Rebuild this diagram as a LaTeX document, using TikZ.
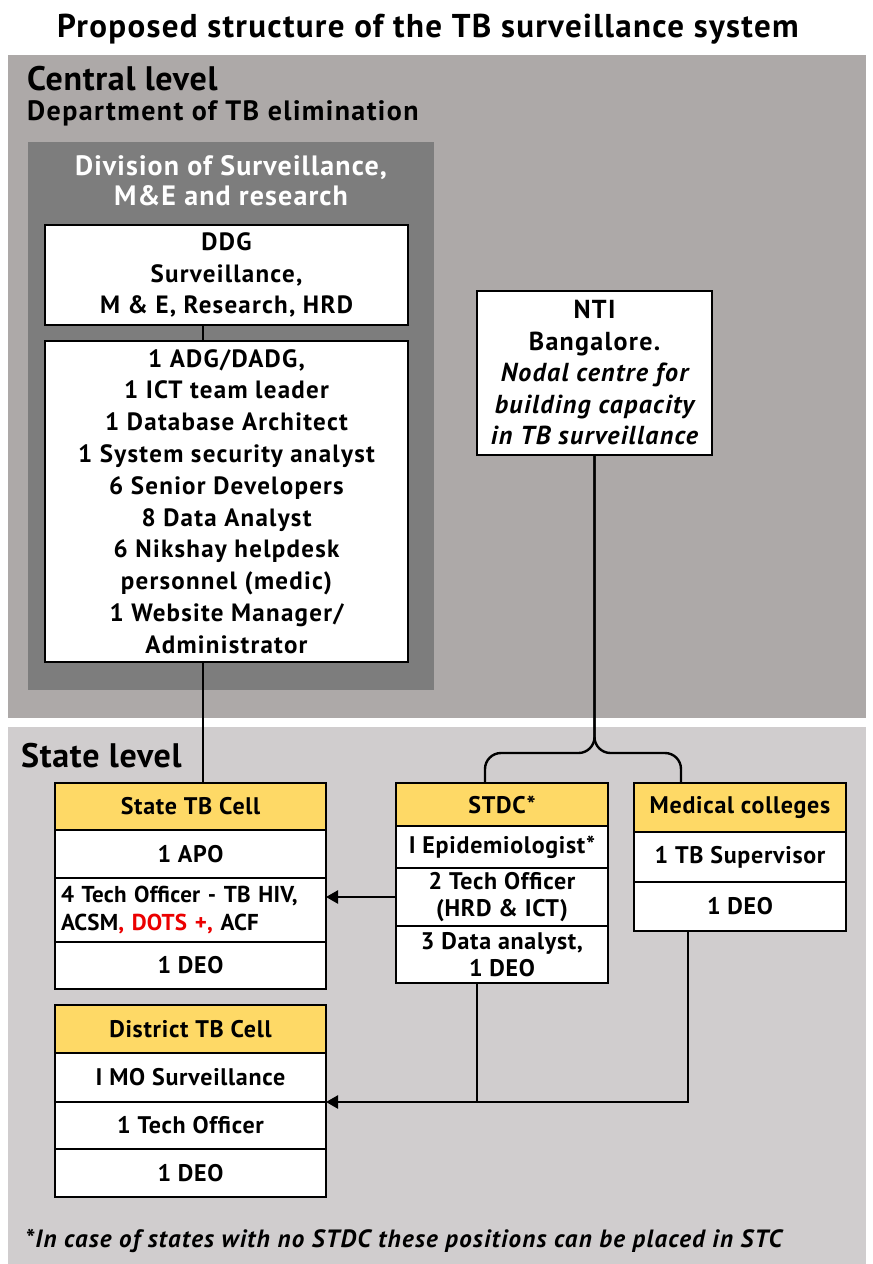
\documentclass[tikz,border=0pt]{standalone}
\usepackage{fontspec}
\setmainfont{PT Sans}
\usetikzlibrary{arrows.meta}
\definecolor{cgray}{RGB}{173,169,168}
\definecolor{sgray}{RGB}{208,205,206}
\definecolor{dgray}{RGB}{125,125,125}
\definecolor{hyellow}{RGB}{254,217,102}
\definecolor{dred}{RGB}{235,0,0}
\newcommand{\fnt}[3]{\bfseries\fontsize{#1}{#2}\selectfont\addfontfeature{LetterSpace=#3}}
\tikzset{
 panel/.style={draw=none, anchor=north west, inner sep=0, outer sep=0},
 lbl/.style={anchor=base west, inner sep=0, font=\fnt{34}{36}{2}},
 cell/.style={draw=black, line width=1.6pt, anchor=north west, inner sep=0, outer sep=0, fill=white, align=center, font=\fnt{25}{31.5}{5}},
 scell/.style={cell, font=\fnt{24}{27}{3}},
 head/.style={scell, fill=hyellow},
 conn/.style={line width=2.4pt},
 arr/.style={conn, -{Triangle[length=12pt,width=13pt]}},
}
\begin{document}
\begin{tikzpicture}[x=1pt,y=-1pt]
\useasboundingbox[fill=white] (0,0) rectangle (873,1264);
% title
\node[anchor=base, inner sep=0, font=\fnt{33}{36}{4}] (title) at (428,37) {Proposed structure of the TB surveillance system};
% panels
\node[panel, fill=cgray, minimum width=858pt, minimum height=663pt] (central) at (8,55) {};
\node[panel, fill=sgray, minimum width=858pt, minimum height=537pt] (state) at (8,727) {};
\node[lbl] (cl) at (27,90) {Central level};
\node[lbl, font=\fnt{28}{30}{5}] (dept) at (27,120) {Department of TB elimination};
\node[lbl] (sl) at (21,767) {State level};
% division
\node[panel, fill=dgray, minimum width=406pt, minimum height=548pt] (div) at (28,142) {};
\node[anchor=base, inner sep=0, text=white, font=\fnt{28}{30}{4}] (divt1) at (231,175) {Division of Surveillance,};
\node[anchor=base, inner sep=0, text=white, font=\fnt{28}{30}{4}] (divt2) at (231,205) {M\&E and research};
\node[cell, minimum width=363pt, minimum height=100pt] (ddg) at (45,225) {DDG\\Surveillance,\\M \& E, Research, HRD};
\node[cell, minimum width=363pt, minimum height=321pt, font=\fnt{25}{31.8}{5}] (staff) at (45,341) {1 ADG/DADG,\\1 ICT team leader\\1 Database Architect\\1 System security analyst\\6 Senior Developers\\8 Data Analyst\\6 Nikshay helpdesk\\personnel (medic)\\1 Website Manager/\\Administrator};
% NTI
\node[cell, minimum width=235pt, minimum height=164pt, font=\fnt{26}{31.5}{5}] (nti) at (477,291) {NTI\\Bangalore.\\\itshape Nodal centre for\\\itshape building capacity\\\itshape in TB surveillance};
% State TB cell
\node[head, minimum width=271pt, minimum height=47pt] (st0) at (55,783) {State TB Cell};
\node[scell, minimum width=271pt, minimum height=48pt] (st1) at (55,830) {1 APO};
\node[scell, text width=259pt, inner xsep=6pt, align=left, minimum height=64pt, font=\fnt{23}{28}{1}] (st2) at (55,878) {4 Tech Officer - TB HIV,\\ACSM\textcolor{dred}{, DOTS +,} ACF};
\node[scell, minimum width=271pt, minimum height=47pt] (st3) at (55,942) {1 DEO};
% STDC
\node[head, minimum width=212pt, minimum height=43pt] (sd0) at (396,783) {STDC*};
\node[scell, minimum width=212pt, minimum height=42pt] (sd1) at (396,826) {I Epidemiologist*};
\node[scell, minimum width=212pt, minimum height=58pt] (sd2) at (396,868) {2 Tech Officer\\(HRD \& ICT)};
\node[scell, minimum width=212pt, minimum height=57pt] (sd3) at (396,926) {3 Data analyst,\\1 DEO};
% Medical colleges
\node[head, minimum width=212pt, minimum height=49pt] (mc0) at (634,783) {Medical colleges};
\node[scell, minimum width=212pt, minimum height=50pt] (mc1) at (634,832) {1 TB Supervisor};
\node[scell, minimum width=212pt, minimum height=49pt] (mc2) at (634,882) {1 DEO};
% District
\node[head, minimum width=271pt, minimum height=48pt] (dt0) at (55,1005) {District TB Cell};
\node[scell, minimum width=271pt, minimum height=49pt] (dt1) at (55,1053) {I MO Surveillance};
\node[scell, minimum width=271pt, minimum height=47pt] (dt2) at (55,1102) {1 Tech Officer};
\node[scell, minimum width=271pt, minimum height=48pt] (dt3) at (55,1149) {1 DEO};
% footnote
\node[anchor=base west, inner sep=0, font={\fnt{25}{28}{5}\itshape}] (foot) at (25,1247) {*In case of states with no STDC these positions can be placed in STC};
% connectors
\draw[conn] (203,0 |- ddg.south) -- (203,0 |- staff.north);
\draw[conn] (203,0 |- staff.south) -- (203,0 |- st0.north);
\draw[conn, rounded corners=16pt] (nti.south) |- (485,753) -- (485,0 |- sd0.north);
\draw[conn, rounded corners=16pt] (nti.south) |- (681,753) -- (681,0 |- mc0.north);
\draw[arr] (sd2.west) -- (sd2.west -| st2.east);
\draw[conn] (477,0 |- sd3.south) -- (477,0 |- dt1.south);
\draw[arr] (688,0 |- mc2.south) |- (dt1.south east);
\end{tikzpicture}
\end{document}
